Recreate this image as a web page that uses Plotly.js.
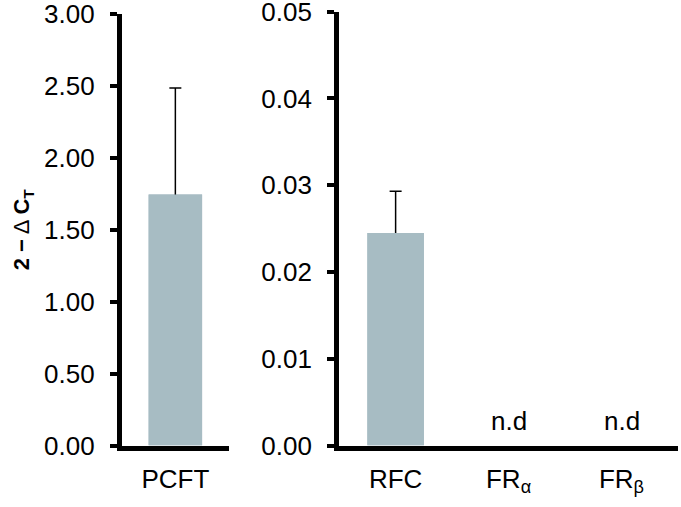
<!DOCTYPE html>
<html>
<head>
<meta charset="utf-8">
<script src="https://cdn.plot.ly/plotly-3.0.1.min.js"></script>
<style>
  html, body { margin: 0; padding: 0; background: white; }
  #plotDiv { width: 681px; height: 507px; }
</style>
</head>
<body>
<div id="plotDiv"></div>
<script>
// left panel
var leftCats = ['PCFT'];
var leftVals = [1.745];
var leftErr = [0.74];

// right panel (FRa / FRb not detected)
var rightCats = ['RFC', 'FR<sub>α</sub>', 'FR<sub>β</sub>'];
var rightVals = [0.0245, null, null];
var rightErr = [0.0048, 0, 0];
var ndCats = ['FR<sub>α</sub>', 'FR<sub>β</sub>'];

var leftTicks = [0, 0.5, 1, 1.5, 2, 2.5, 3];
var leftTickText = ['0.00', '0.50', '1.00', '1.50', '2.00', '2.50', '3.00'];
var rightTicks = [0, 0.01, 0.02, 0.03, 0.04, 0.05];
var rightTickText = ['0.00', '0.01', '0.02', '0.03', '0.04', '0.05'];

var barColor = '#a7bcc3';
var fnt = 'Liberation Sans, Arial, sans-serif';

// bars with symmetric error bars, then the same bars again on top
// so only the upper half of each error bar shows
function barPair(cats, vals, err, xa, ya) {
    var under = {
        type: 'bar', x: cats, y: vals, xaxis: xa, yaxis: ya, width: 0.5,
        marker: { color: barColor },
        error_y: { type: 'data', array: err, color: 'black', thickness: 1.5, width: 6 }
    };
    var over = {
        type: 'bar', x: cats, y: vals, xaxis: xa, yaxis: ya, width: 0.5,
        marker: { color: barColor }
    };
    return [under, over];
}

var data = barPair(leftCats, leftVals, leftErr, 'x', 'y')
    .concat(barPair(rightCats, rightVals, rightErr, 'x2', 'y2'));

function yAxis(range, ticks, text, domain, anchor) {
    return {
        range: range,
        domain: domain,
        anchor: anchor,
        tickmode: 'array',
        tickvals: ticks,
        ticktext: text,
        ticks: 'outside',
        ticklen: 7,
        tickwidth: 4,
        tickcolor: 'black',
        showline: true,
        linewidth: 5,
        linecolor: 'black',
        showgrid: false,
        zeroline: false,
        ticklabelstandoff: 10,
        ticklabeloverflow: 'allow',
        tickfont: { family: fnt, size: 26, color: 'black' },
        fixedrange: true
    };
}

function xAxis(domain, anchor) {
    return {
        domain: domain,
        anchor: anchor,
        showline: true,
        linewidth: 5,
        linecolor: 'black',
        ticks: '',
        showgrid: false,
        zeroline: false,
        ticklabelstandoff: 6,
        tickfont: { family: fnt, size: 26, color: 'black' },
        fixedrange: true
    };
}

var layout = {
    width: 681,
    height: 507,
    margin: { l: 0, r: 0, t: 0, b: 0 },
    paper_bgcolor: 'white',
    plot_bgcolor: 'white',
    showlegend: false,
    barmode: 'overlay',
    xaxis: Object.assign(xAxis([0.179, 0.336], 'y'), { range: [-0.5, 0.5] }),
    xaxis2: Object.assign(xAxis([0.498, 0.9956], 'y2'), { range: [-0.5, 2.5] }),
    yaxis: Object.assign(yAxis([0, 3], leftTicks, leftTickText, [0.1213, 0.9724], 'x'), {
        title: {
            text: '<b>2</b> <b>−</b> Δ <b>C</b><sub><b>T</b></sub>',
            font: { family: fnt, size: 22, color: 'black' },
            standoff: 10
        }
    }),
    yaxis2: yAxis([0, 0.05], rightTicks, rightTickText, [0.1213, 0.977], 'x2'),
    annotations: ndCats.map(function (c) {
        return {
            x: c, y: 0, xref: 'x2', yref: 'y2',
            text: 'n.d', showarrow: false,
            yanchor: 'bottom', yshift: 8,
            font: { family: fnt, size: 26, color: 'black' }
        };
    })
};

Plotly.newPlot('plotDiv', data, layout, { displayModeBar: false, staticPlot: true });
</script>
</body>
</html>
